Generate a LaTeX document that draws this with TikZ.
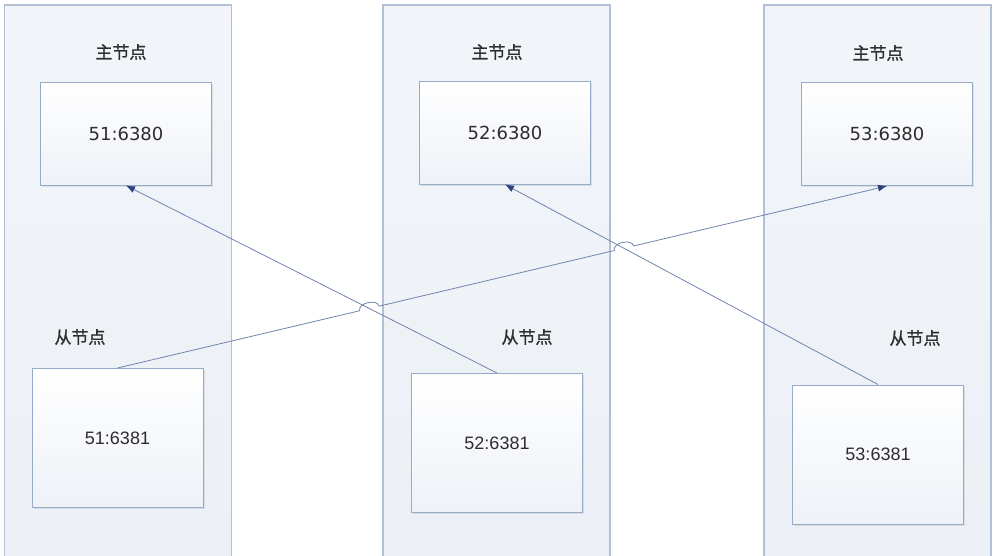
\documentclass[tikz,border=0pt]{standalone}
\usepackage{fontspec}
\setmainfont{Liberation Sans}
\newfontfamily\cjk[FakeBold=1.2]{Noto Sans CJK SC}
\newfontfamily\lucida{DejaVu Sans}
\usetikzlibrary{calc}
\usetikzlibrary{arrows.meta}
\usetikzlibrary{shadows}

\definecolor{colborder}{RGB}{178,192,212}
\definecolor{colfill}{RGB}{236,240,246}
\definecolor{boxborder}{RGB}{150,170,202}
\definecolor{linkblue}{RGB}{112,132,172}
\definecolor{tipblue}{RGB}{45,65,125}
\definecolor{txtgray}{RGB}{45,45,45}

\begin{document}
\begin{tikzpicture}[x=1pt, y=-1pt,
    column/.style={draw=colborder, line width=1.2pt, top color=white!30!colfill, bottom color=colfill,
        minimum width=227pt, minimum height=560pt, inner sep=0pt},
    server/.style={draw=boxborder, line width=1pt, top color=white, bottom color=colfill!90,
        minimum width=171pt, inner sep=0pt, text=txtgray,
        drop shadow={opacity=0.18, shadow xshift=1.5pt, shadow yshift=-1.5pt}},
    master/.style={server, minimum height=103pt, font=\lucida\fontsize{18}{21}\selectfont},
    slave/.style={server, minimum height=139pt, font=\fontsize{18}{21}\selectfont},
    role/.style={font=\cjk\fontsize{17}{20}\selectfont, text=txtgray},
    link/.style={draw=linkblue, line width=0.8pt, -{Latex[length=9pt,width=7pt,color=tipblue]}}
  ]
        \useasboundingbox (0,0) rectangle (1000,555);
        \clip (0,0) rectangle (1000,555);

        % machine columns
        \node[column] (c1) at (118,285) {};
        \node[column] (c2) at (496.5,285) {};
        \node[column] (c3) at (877.5,285) {};

        % role labels
        \node[role] (r1) at (121,52) {主节点};
        \node[role] (r2) at (497,52) {主节点};
        \node[role] (r3) at (878,53) {主节点};
        \node[role] (q1) at (80,337) {从节点};
        \node[role] (q2) at (527,337) {从节点};
        \node[role] (q3) at (915,338) {从节点};

        % master instances
        \node[master] (m1) at (126,133.5) {51:6380};
        \node[master] (m2) at (505,132.5) {52:6380};
        \node[master] (m3) at (887,134) {53:6380};

        % slave instances
        \node[slave] (s1) at (117.5,438) {51:6381};
        \node[slave] (s2) at (497,443) {52:6381};
        \node[slave] (s3) at (878,454.5) {53:6381};

        % replication links
        \draw[link] (s2.north) -- (m1.south);
        \draw[link] (s3.north) -- (m2.south);

        % hops where the long link crosses the others
        \coordinate (x1) at (intersection of s1.north--m3.south and s2.north--m1.south);
        \coordinate (x2) at (intersection of s1.north--m3.south and s3.north--m2.south);
        \coordinate (a1) at ($(x1)!10pt!(s1.north)$);
        \coordinate (b1) at ($(x1)!10pt!(m3.south)$);
        \coordinate (a2) at ($(x2)!10pt!(s1.north)$);
        \coordinate (b2) at ($(x2)!10pt!(m3.south)$);
        \draw[link] (s1.north) -- (a1)
            .. controls ($(a1)!8pt!90:(b1)$) and ($(b1)!8pt!-90:(a1)$) .. (b1) -- (a2)
            .. controls ($(a2)!8pt!90:(b2)$) and ($(b2)!8pt!-90:(a2)$) .. (b2) -- (m3.south);

    \end{tikzpicture}
\end{document}
